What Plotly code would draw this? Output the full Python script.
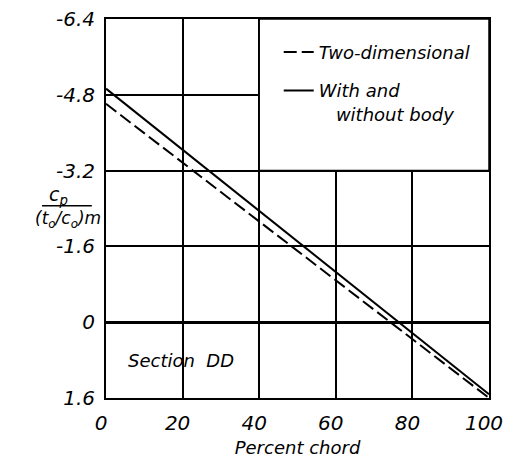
import plotly.graph_objects as go

# Data
x_chord = [0, 100]
cp_two_dim = [-4.61, 1.60]
cp_with_body = [-4.93, 1.52]
y_ticks = [-6.4, -4.8, -3.2, -1.6, 0, 1.6]
y_ticktext = ["-6.4", "-4.8", "-3.2", "-1.6", "0", "1.6"]
x_ticks = [0, 20, 40, 60, 80, 100]
x_ticktext = ["0", "20", "40", "60", "80", "100"]

FONT = "DejaVu Sans"

fig = go.Figure()
fig.add_trace(go.Scatter(
    x=x_chord, y=cp_two_dim, mode="lines", name="Two-dimensional",
    line=dict(color="black", width=2, dash="13px,5px"), legendgroup="a"))
fig.add_trace(go.Scatter(
    x=x_chord, y=cp_with_body, mode="lines",
    name="With and<br>\u00a0\u00a0\u00a0without body",
    line=dict(color="black", width=2), legendgroup="b"))

fig.update_layout(
    width=506, height=464,
    margin=dict(l=106, r=17, t=19, b=66, autoexpand=False),
    paper_bgcolor="white", plot_bgcolor="white",
    font=dict(family=FONT, color="black", style="italic"),
    showlegend=True,
    legend=dict(x=0.451, y=0.961, xanchor="left", yanchor="top",
                bgcolor="rgba(0,0,0,0)", borderwidth=0, valign="top",
                font=dict(size=18, family=FONT, style="italic"),
                tracegroupgap=12, itemwidth=30),
)

fig.update_xaxes(
    range=[0, 100], tickvals=x_ticks, ticktext=x_ticktext,
    showgrid=True, gridcolor="black", gridwidth=1.5,
    showline=True, linecolor="black", linewidth=2, mirror=True,
    zeroline=False, ticks="", ticklabelstandoff=6, ticklabelshift=-5,
    automargin=False, ticklabeloverflow="allow",
    tickfont=dict(size=20, family=FONT, style="italic"),
    title=dict(text="Percent chord", font=dict(size=18, family=FONT, style="italic"), standoff=7),
)
fig.update_yaxes(
    range=[1.6, -6.4], tickvals=y_ticks, ticktext=y_ticktext,
    showgrid=True, gridcolor="black", gridwidth=1.5,
    showline=True, linecolor="black", linewidth=2, mirror=True,
    zeroline=True, zerolinecolor="black", zerolinewidth=2.5,
    ticks="", ticklabelstandoff=5, automargin=False, ticklabeloverflow="allow",
    tickfont=dict(size=20, family=FONT, style="italic"),
)

# White legend panel covering the grid
fig.add_shape(type="rect", xref="x", yref="y", x0=40, x1=100, y0=-6.4, y1=-3.2,
              fillcolor="white", line=dict(color="black", width=1.5), layer="between")

# Y-axis title as a fraction
fig.add_annotation(text="c<sub>p</sub>", xref="paper", yref="paper",
                   x=-0.125, y=0.535, xanchor="center", yanchor="middle",
                   showarrow=False, font=dict(size=19, family=FONT, style="italic"))
fig.add_annotation(text="(t<sub>o</sub>/c<sub>o</sub>)m", xref="paper", yref="paper",
                   x=-0.10, y=0.47, xanchor="center", yanchor="middle",
                   showarrow=False, font=dict(size=17, family=FONT, style="italic"))
fig.add_shape(type="line", xref="paper", yref="paper",
              x0=-0.167, x1=-0.037, y0=0.507, y1=0.507,
              line=dict(color="black", width=1.5))

fig.add_annotation(text="Section\u00a0\u00a0DD", xref="x", yref="y",
                   x=19.5, y=0.8, xanchor="center", yanchor="middle",
                   showarrow=False, font=dict(size=18, family=FONT, style="italic"))

fig.write_html(
    "out.html",
    config={"displayModeBar": False},
    post_script="document.body.style.margin='0px';document.body.style.overflow='hidden';",
)
